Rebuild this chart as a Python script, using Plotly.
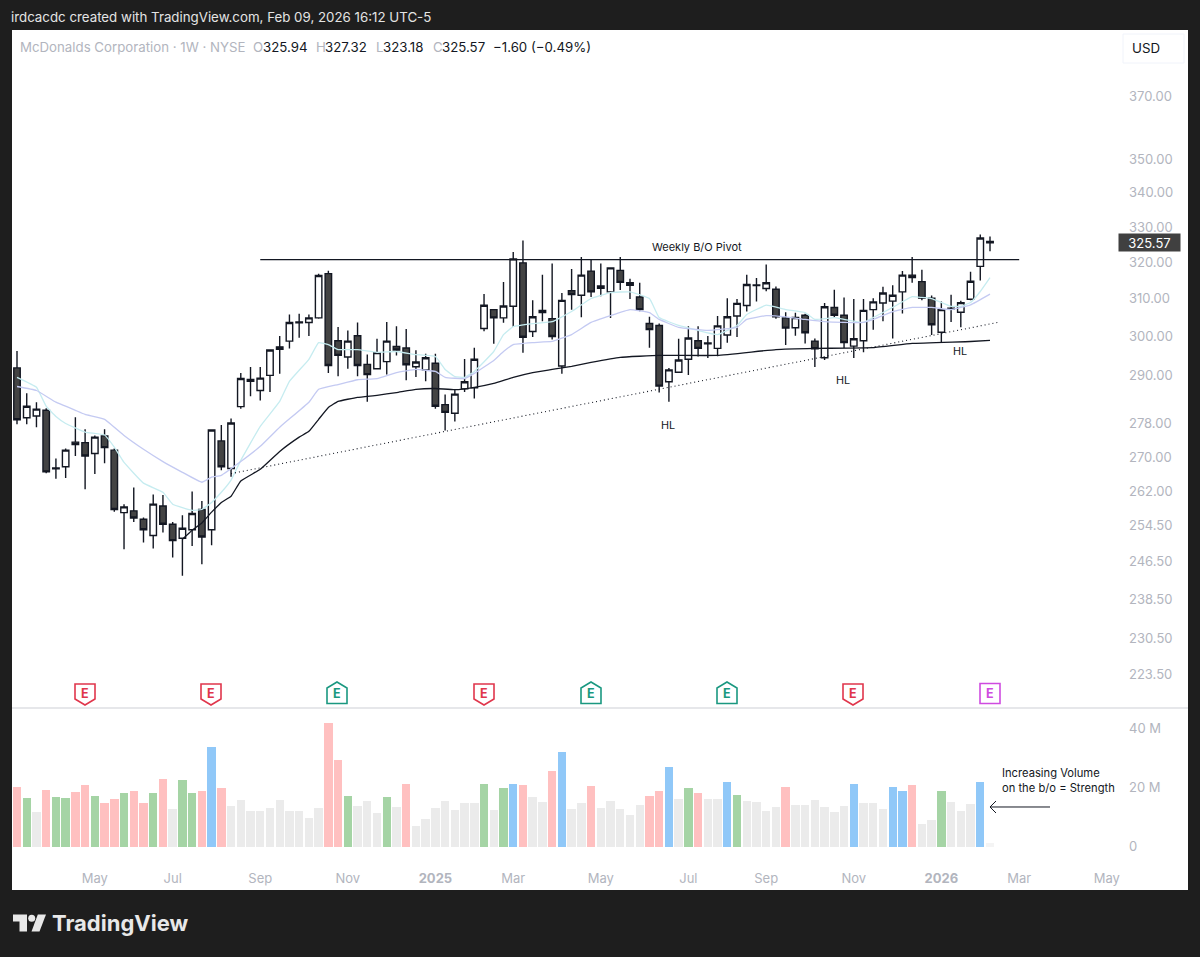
import pandas as pd
import plotly.graph_objects as go

W, H = 1200, 957
first_week = pd.Timestamp("2024-03-11")
bar_count = 101

opens = [291.9,279.5,279.9,281.3,267.3,267.8,273.6,273.5,270.9,275.1,
         271.7,257.3,257.7,255.8,252.2,258.8,254.7,251.6,253.5,258.0,
         253.5,273.9,267.4,282.2,289.0,286.2,290.0,297.3,298.8,303.6,
         303.7,304.9,316.9,298.9,294.7,300.2,292.8,291.7,293.5,297.4,
         297.0,292.2,291.4,293.1,282.7,280.6,286.6,286.9,302.1,307.1,
         304.9,308.0,319.9,301.3,306.3,304.7,292.4,312.2,311.0,317.6,
         313.5,311.9,317.8,314.4,310.5,303.4,302.9,288.4,290.8,294.1,
         298.9,298.3,296.9,300.4,305.4,308.2,313.6,312.8,312.6,304.9,
         302.3,305.6,298.8,294.5,307.7,305.6,297.5,298.9,307.1,308.9,
         309.4,311.9,316.5,314.7,310.2,301.1,307.3,306.4,309.9,318.9,325.94]
highs = [296.2,285.5,283.3,281.8,269.7,272.1,279.6,276.7,275.2,276.7,
         272.1,259.2,263.0,256.2,261.4,261.3,255.2,256.7,262.1,259.9,
         276.7,277.7,279.3,290.6,292.1,292.1,296.6,300.1,305.8,306.0,
         305.8,316.9,317.7,302.5,301.6,303.7,295.3,299.4,303.8,302.7,
         302.0,296.4,295.5,295.5,285.2,286.6,294.2,297.1,311.3,307.2,
         314.6,322.9,326.2,309.6,316.6,319.7,311.6,318.2,321.5,320.8,
         319.7,318.6,321.5,315.5,314.4,305.2,303.4,291.9,299.4,302.7,
         302.7,300.1,305.4,310.2,310.0,316.6,315.7,319.4,313.4,306.4,
         306.3,306.0,299.5,308.9,312.5,310.4,310.0,310.0,310.2,313.3,
         313.7,317.6,321.5,318.0,310.9,309.3,311.1,309.5,317.4,327.9,327.32]
lows = [277.9,277.9,277.2,266.3,265.0,265.2,270.3,262.6,266.1,268.6,
        257.5,249.2,255.2,250.7,249.4,252.9,247.4,243.5,249.9,246.0,
        250.1,267.0,265.5,281.7,284.8,283.7,285.8,290.4,296.9,299.7,
        300.1,304.7,290.6,289.8,291.7,289.8,283.4,291.5,290.2,295.1,
        288.8,289.6,288.5,281.7,276.4,278.6,285.8,284.2,301.4,298.1,
        303.6,302.5,295.8,299.9,304.0,299.2,290.4,307.1,305.1,310.5,
        310.7,304.9,312.4,310.0,306.7,297.1,285.7,283.4,290.6,290.1,
        294.8,294.4,294.9,298.4,299.9,306.6,309.3,312.1,304.7,297.8,
        300.2,298.2,292.1,293.9,304.9,297.0,294.4,295.9,301.8,304.0,
        299.5,306.1,314.4,309.6,300.4,298.4,303.8,302.4,309.6,315.0,323.18]
closes = [279.0,282.3,281.6,266.6,267.5,271.7,273.0,270.3,274.8,272.3,
          258.0,258.6,256.1,253.5,259.2,254.7,251.1,253.8,257.1,251.9,
          276.5,267.8,278.2,289.2,288.5,289.3,296.5,296.7,303.7,303.8,
          304.9,316.4,292.5,295.1,298.8,292.5,290.2,295.8,298.8,296.5,
          292.7,293.4,294.5,282.3,280.8,285.3,288.4,294.1,308.3,304.9,
          308.1,321.0,299.8,305.2,306.9,300.0,309.6,311.2,316.5,311.9,
          312.9,318.5,314.5,313.7,307.1,301.8,287.3,291.4,293.9,299.6,
          296.9,298.1,302.8,305.2,308.8,313.9,313.8,314.4,305.2,302.2,
          305.0,301.0,296.8,307.9,305.6,298.4,299.4,306.9,309.2,311.6,
          311.0,316.5,315.8,310.2,303.1,307.1,307.5,309.0,314.8,326.9,325.57]

volume_m = [20.2,16.5,11.7,19.0,16.7,16.5,18.4,20.7,17.1,14.8,
            16.0,18.2,18.8,14.8,18.0,22.7,12.7,22.4,18.2,18.8,
            33.5,19.8,13.7,15.6,11.9,11.9,13.0,15.7,12.1,12.1,
            9.7,13.0,41.6,29.1,17.0,13.7,15.3,11.3,16.7,13.5,
            21.3,7.1,9.2,13.0,15.3,12.4,14.6,14.8,21.2,12.4,
            19.9,21.2,20.7,16.7,15.1,25.5,32.0,12.7,14.8,20.4,
            13.0,15.4,12.7,10.7,14.0,17.1,18.7,26.9,16.1,19.8,
            18.1,16.1,16.1,21.8,17.3,15.3,15.1,11.9,13.5,20.3,
            13.9,14.0,15.6,13.3,11.7,13.7,21.0,14.8,14.8,12.6,
            20.1,18.8,20.7,7.6,9.0,18.8,15.1,12.0,14.3,21.8,1.2]
volume_kind = list(
    "pgnpggppgp" "pgppgpnggp" "bpnnnnnnnn" "nnppgnnngn"
    "pnnnnnnngn" "gbpnnpbnnp" "nnnnnppbng" "pnnbgnnnnp"
    "nnnnnnbnnn" "bbpnngnnnb" "f")

ma_fast_weeks = [0,2,3,4,5,7,9,10,11,13,15,16,18,19,20,21,22,23,25,27,28,30,31,32,33,35,37,39,41,43,44,45,46,47,49,50,51,53,55,57,59,61,63,65,66,68,70,72,74,75,77,79,81,82,84,85,87,88,90,92,93,94,96,97,98,99,100]
ma_fast = [289.5,287.0,282.3,279.8,278.1,276.0,275.3,272.4,268.8,264.0,261.9,259.2,257.8,258.0,259.6,261.9,264.7,269.3,277.4,283.5,288.5,294.1,298.4,297.9,296.6,296.6,295.9,296.1,295.3,294.8,291.5,289.7,289.5,291.0,296.1,300.5,302.6,303.4,303.9,306.6,310.1,311.7,311.9,310.1,305.0,302.9,301.6,300.5,302.9,305.8,308.3,307.1,306.3,304.5,305.0,304.5,303.7,305.0,307.7,310.6,310.4,310.1,308.0,308.0,309.0,312.0,315.8]
ma_mid_weeks = [0,2,4,6,7,9,11,13,15,17,19,20,21,23,25,27,30,31,33,35,37,39,41,43,44,46,47,49,50,51,53,55,57,59,61,63,65,66,68,71,74,75,77,79,81,83,85,87,88,90,92,94,96,98,100]
ma_mid = [287.2,286.2,283.3,281.3,280.3,279.1,275.2,271.9,269.0,266.5,264.2,265.4,265.8,269.0,272.6,277.2,283.3,286.5,287.7,288.9,289.2,290.7,291.5,291.0,289.5,289.2,290.5,293.8,296.1,297.9,298.4,298.7,300.5,303.7,305.5,307.1,306.3,304.5,302.4,301.6,302.4,304.5,305.5,305.2,304.5,303.9,303.7,303.7,304.5,306.6,307.7,307.7,307.1,308.4,311.3]
ma_slow_weeks = [17,18,19,20,21,22,23,25,27,29,30,31,32,33,35,37,39,41,43,45,47,49,51,53,55,57,59,62,66,72,78,82,88,92,98,100]
ma_slow = [251.4,253.4,255.0,257.4,259.6,261.0,264.5,267.2,271.4,274.8,276.2,279.1,282.0,283.5,284.5,285.0,285.7,286.5,286.7,286.4,287.0,288.0,289.5,290.7,291.5,292.3,293.3,294.6,295.1,295.1,296.6,296.9,297.1,298.2,298.7,299.0]

pivot_weeks = [25, 103]
pivot_price = [320.8, 320.8]
trend_weeks = [22, 101]
trend_price = [266.2, 303.8]

price_ticks = [223.5,230.5,238.5,246.5,254.5,262,270,278,290,300,310,320,330,340,350,370]
volume_ticks = [0,20,40]
volume_tick_text = ["0","20 M","40 M"]
month_weeks = [8,16,25,34,43,51,60,69,77,86,95,103,112]
month_labels = ["May","Jul","Sep","Nov","<b>2025</b>","Mar","May","Jul","Sep","Nov","<b>2026</b>","Mar","May"]

earnings_x = [85,211,337,484,591,727,853,990]
earnings_kind = ["miss","miss","beat","miss","beat","beat","miss","next"]

DARK = "#1e1e1e"; INK = "#131722"; GREY = "#b2b5be"
vol_color = {"p":"#ffc0c0","g":"#a5d4a5","n":"#ebebeb","b":"#90c8f8","f":"#f4f4f4"}
badge_color = {"miss":"#e0364c","beat":"#1a9880","next":"#cf4be0"}

def week(i):
    return first_week + pd.Timedelta(days=7*i)
def px(x): return x/W
def py(y): return 1-y/H

dates = [week(i) for i in range(bar_count)]
fig = go.Figure()
for wk, val, col in [(ma_fast_weeks, ma_fast, "#c6ecf0"), (ma_mid_weeks, ma_mid, "#c4caf2"), (ma_slow_weeks, ma_slow, INK)]:
    fig.add_trace(go.Scatter(x=[week(i) for i in wk], y=val, mode="lines", line=dict(color=col, width=1.3, shape="spline", smoothing=0.3), yaxis="y", xaxis="x", showlegend=False, hoverinfo="skip"))
fig.add_trace(go.Scatter(x=[week(i) for i in pivot_weeks], y=pivot_price, mode="lines", line=dict(color=INK, width=1.3), showlegend=False, hoverinfo="skip"))
fig.add_trace(go.Scatter(x=[week(i) for i in trend_weeks], y=trend_price, mode="lines", line=dict(color=INK, width=1.1, dash="1px 3px"), showlegend=False, hoverinfo="skip"))
fig.add_trace(go.Candlestick(x=dates, open=opens, high=highs, low=lows, close=closes, showlegend=False,
    increasing=dict(line=dict(color=INK, width=1.4), fillcolor="#ffffff"),
    decreasing=dict(line=dict(color=INK, width=1.4), fillcolor="#434343"), whiskerwidth=0))
fig.add_trace(go.Bar(x=dates, y=volume_m, yaxis="y2", xaxis="x", showlegend=False,
    marker=dict(color=[vol_color[k] for k in volume_kind], line=dict(width=0)), width=[8.4/9.73*7*86400000]*bar_count))

left, right = 12, 1120
x0 = first_week + pd.Timedelta(days=7*(left-17)/9.73)
x1 = first_week + pd.Timedelta(days=7*(right-17)/9.73)

shapes = [
    dict(type="rect", xref="paper", yref="paper", x0=px(12), x1=px(1188), y0=py(890), y1=py(30), fillcolor="#ffffff", line=dict(width=0), layer="below"),
    dict(type="line", xref="paper", yref="paper", x0=px(12), x1=px(1188), y0=py(708), y1=py(708), line=dict(color="#e6e7ea", width=2), layer="below"),
    dict(type="rect", xref="paper", yref="paper", x0=px(1123), x1=px(1184), y0=py(63), y1=py(34), line=dict(color="#f0f3fa", width=1), fillcolor="#ffffff", layer="below"),
]
def path(points, close=True):
    d = "M " + " L ".join(f"{px(a):.5f} {py(b):.5f}" for a, b in points)
    return d + (" Z" if close else "")
annotations = []
for cx, k in zip(earnings_x, earnings_kind):
    if k == "miss":
        pts = [(cx-10,684),(cx+10,684),(cx+10,699),(cx,705),(cx-10,699)]; ty = 693.5
    elif k == "beat":
        pts = [(cx,682),(cx+10,688),(cx+10,703.5),(cx-10,703.5),(cx-10,688)]; ty = 693.5
    else:
        pts = [(cx-10,683.5),(cx+10,683.5),(cx+10,703.5),(cx-10,703.5)]; ty = 693.5
    shapes.append(dict(type="path", xref="paper", yref="paper", path=path(pts), fillcolor="#ffffff", line=dict(color=badge_color[k], width=1.6)))
    annotations.append(dict(x=px(cx), y=py(ty), xref="paper", yref="paper", text="<b>E</b>", font=dict(color=badge_color[k], size=12.5, family="Inter"), showarrow=False, xanchor="center", yanchor="middle"))

# TradingView logo
shapes.append(dict(type="path", xref="paper", yref="paper", path=path([(13,914.5),(27,914.5),(27,931.5),(19.5,931.5),(19.5,921.5),(13,921.5)]), fillcolor="#e8e8e8", line=dict(width=0)))
shapes.append(dict(type="circle", xref="paper", yref="paper", x0=px(28.2), x1=px(35.2), y0=py(921.8), y1=py(914.8), fillcolor="#e8e8e8", line=dict(width=0)))
shapes.append(dict(type="path", xref="paper", yref="paper", path=path([(37.8,914.5),(46,914.5),(39.5,931.5),(31.5,931.5)]), fillcolor="#e8e8e8", line=dict(width=0)))

# note arrow
shapes.append(dict(type="path", xref="paper", yref="paper", path=path([(1050,807),(990,807)], close=False), line=dict(color=INK, width=1)))
shapes.append(dict(type="path", xref="paper", yref="paper", path=path([(996,801),(990,807),(996,813)], close=False), line=dict(color=INK, width=1)))

def label(x, y, text, size=11, color=INK, anchor="left", **kw):
    d = dict(x=px(x), y=py(y), xref="paper", yref="paper", text=text, showarrow=False, xanchor=anchor, yanchor="middle", font=dict(size=size, color=color, family="Inter"))
    d.update(kw)
    annotations.append(d)

label(9, 17, "irdcacdc created with TradingView.com, Feb 09, 2026 16:12 UTC-5", size=13.3, color="#e4e4e4")
legend_y = 47
label(18, legend_y, "McDonalds Corporation · 1W · NYSE", size=13.25, color=GREY)
for lx, s in [(251,"O"),(314,"H"),(373.5,"L"),(431,"C")]:
    label(lx, legend_y, s, size=13.25, color=GREY)
for lx, s in [(261,"325.94"),(323,"327.32"),(381,"323.18"),(440,"325.57"),(491,"−1.60 (−0.49%)")]:
    label(lx, legend_y, s, size=13.25)
label(1146, 48, "USD", size=13.3, anchor="center")
label(697, 247, "Weekly B/O Pivot", size=11, anchor="center")
label(668, 425, "HL", size=10.8, anchor="center")
label(843, 380, "HL", size=10.8, anchor="center")
label(960, 351, "HL", size=10.8, anchor="center")
label(1000, 780.5, "Increasing Volume<br>on the b/o = Strength", size=11.2, align="left")
label(1149.5, 242.5, "325.57", size=13, color="#ffffff", anchor="center", bgcolor="#404040", borderpad=1, width=59, height=15)
label(50, 923, "<b>TradingView</b>", size=22, color="#e8e8e8")

tick_font = dict(size=13, color=GREY, family="Inter")
fig.update_layout(
    width=W, height=H, autosize=False, margin=dict(l=0, r=0, t=0, b=0),
    paper_bgcolor=DARK, plot_bgcolor="rgba(0,0,0,0)", showlegend=False, shapes=shapes, annotations=annotations,
    font=dict(family="Inter"),
    xaxis=dict(domain=[px(left), px(right)], anchor="y2", type="date", range=[x0, x1], rangeslider=dict(visible=False),
               tickmode="array", tickvals=[week(i) for i in month_weeks], ticktext=month_labels, tickfont=tick_font,
               showgrid=False, zeroline=False, showline=False, ticks="", ticklabelstandoff=7),
    yaxis=dict(domain=[py(708), py(30)], anchor="x", side="right", type="log", range=[2.33646, 2.59317],
               tickmode="array", tickvals=price_ticks, ticktext=[f"{v:.2f}" for v in price_ticks], tickfont=tick_font,
               showgrid=False, zeroline=False, showline=False, ticks="", ticklabelstandoff=8),
    yaxis2=dict(domain=[py(862), py(709)], anchor="x", side="right", range=[-5.16, 46.44],
                tickmode="array", tickvals=volume_ticks, ticktext=volume_tick_text, tickfont=tick_font,
                showgrid=False, zeroline=False, showline=False, ticks="", ticklabelstandoff=8),
    bargap=0, boxgap=0.05,
)
fig.write_html("out.html", config={"displayModeBar": False}, post_script="document.body.style.margin='0';document.body.style.background='#1e1e1e';")
